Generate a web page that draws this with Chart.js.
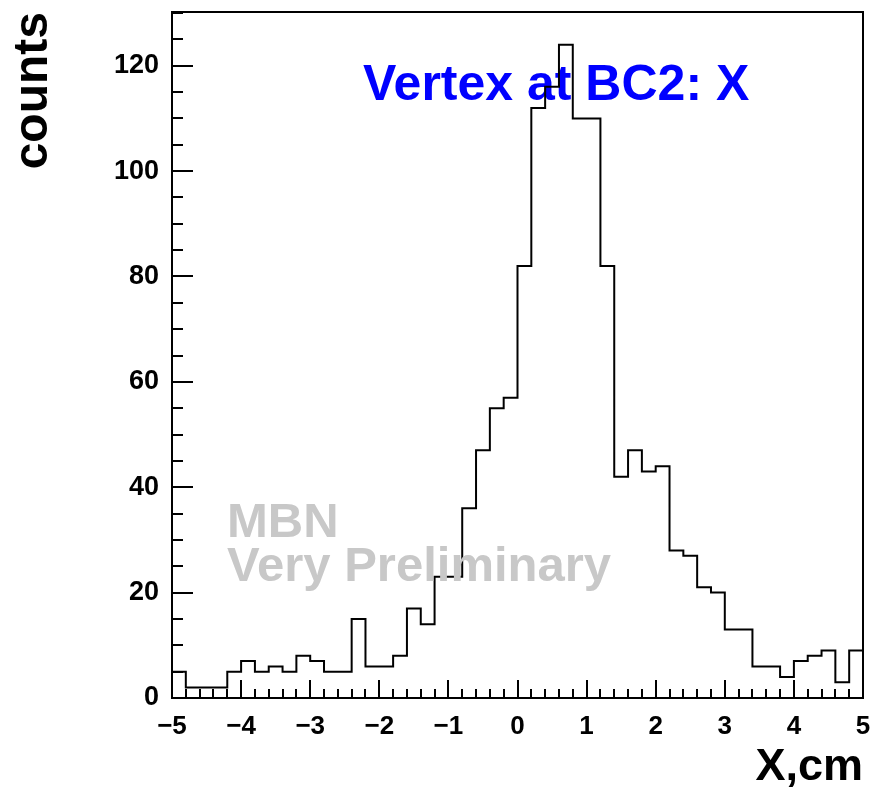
<!DOCTYPE html>
<html>
<head>
<meta charset="utf-8">
<script src="https://cdn.jsdelivr.net/npm/chart.js@4.4.0/dist/chart.umd.min.js"></script>
<style>
  html, body { margin: 0; padding: 0; background: #fff; }
  canvas { display: block; }
</style>
</head>
<body>
<canvas id="histo" width="877" height="795"></canvas>
<script>
// bin edges in cm (50 bins of 0.2 cm)
var binEdges = [-5.0, -4.8, -4.6, -4.4, -4.2, -4.0, -3.8, -3.6, -3.4, -3.2,
                -3.0, -2.8, -2.6, -2.4, -2.2, -2.0, -1.8, -1.6, -1.4, -1.2,
                -1.0, -0.8, -0.6, -0.4, -0.2, 0.0, 0.2, 0.4, 0.6, 0.8,
                1.0, 1.2, 1.4, 1.6, 1.8, 2.0, 2.2, 2.4, 2.6, 2.8,
                3.0, 3.2, 3.4, 3.6, 3.8, 4.0, 4.2, 4.4, 4.6, 4.8, 5.0];
// counts per bin
var binCounts = [5, 2, 2, 2, 5, 7, 5, 6, 5, 8,
                 7, 5, 5, 15, 6, 6, 8, 17, 14, 23,
                 23, 36, 47, 55, 57, 82, 112, 116, 124, 110,
                 110, 82, 42, 47, 43, 44, 28, 27, 21, 20,
                 13, 13, 6, 6, 4, 7, 8, 9, 3, 9];

var xTickValues = [-5, -4, -3, -2, -1, 0, 1, 2, 3, 4, 5];
var xTickLabels = ['\u22125', '\u22124', '\u22123', '\u22122', '\u22121', '0', '1', '2', '3', '4', '5'];
var yTickValues = [0, 20, 40, 60, 80, 100, 120];
var yTickLabels = ['0', '20', '40', '60', '80', '100', '120'];
var yMax = 130.2;

var titleText = 'Vertex at BC2: X';
var stampText = ['MBN', 'Very Preliminary'];

// step points: each bin edge carries the count of the bin on its right
var histPoints = [];
for (var i = 0; i < binEdges.length; i++) {
    var c = binCounts[Math.min(i, binCounts.length - 1)];
    histPoints.push({x: binEdges[i], y: c});
}

var FONT = '"Liberation Sans", Arial, Helvetica, sans-serif';

// blue title under the histogram line
var titleUnder = {
    id: 'titleUnder',
    beforeDatasetsDraw: function(chart) {
        var ctx = chart.ctx;
        ctx.save();
        ctx.font = 'bold 50px ' + FONT;
        ctx.fillStyle = '#0000ff';
        ctx.textAlign = 'left';
        ctx.textBaseline = 'alphabetic';
        ctx.fillText(titleText, 363, 100);
        ctx.restore();
    }
};

// grey stamp over the line
var stampOver = {
    id: 'stampOver',
    afterDatasetsDraw: function(chart) {
        var ctx = chart.ctx;
        ctx.save();
        ctx.font = 'bold 49px ' + FONT;
        ctx.fillStyle = '#c8c8c8';
        ctx.textAlign = 'left';
        ctx.textBaseline = 'alphabetic';
        ctx.fillText(stampText[0], 227, 537);
        ctx.fillText(stampText[1], 227, 581);
        ctx.restore();
    }
};

// frame + inward ticks, ROOT style
var rootFrame = {
    id: 'rootFrame',
    afterDraw: function(chart) {
        var ctx = chart.ctx;
        var a = chart.chartArea;
        var xs = chart.scales.x, ys = chart.scales.y;
        ctx.save();
        ctx.strokeStyle = '#000';
        ctx.lineWidth = 2;
        ctx.strokeRect(a.left, a.top, a.right - a.left, a.bottom - a.top);

        ctx.beginPath();
        // x ticks every 0.2, major every 1
        for (var i = 0; i < binEdges.length; i++) {
            var v = binEdges[i];
            var px = Math.round(xs.getPixelForValue(v));
            var major = Math.abs(v - Math.round(v)) < 1e-6;
            var len = major ? 18 : 9;
            ctx.moveTo(px, a.bottom);
            ctx.lineTo(px, a.bottom - len);
        }
        // y ticks every 5, major every 20
        for (var y = 0; y <= yMax; y += 5) {
            var py = Math.round(ys.getPixelForValue(y));
            var ylen = (y % 20 === 0) ? 21 : 11;
            ctx.moveTo(a.left, py);
            ctx.lineTo(a.left + ylen, py);
        }
        ctx.stroke();
        ctx.restore();
    }
};

var chart = new Chart(document.getElementById('histo'), {
    type: 'line',
    data: {
        datasets: [{
            data: histPoints,
            stepped: 'before',
            borderColor: '#000',
            borderWidth: 2,
            fill: false,
            pointRadius: 0,
            tension: 0
        }]
    },
    options: {
        responsive: false,
        animation: false,
        devicePixelRatio: 1,
        layout: {padding: {top: 12, right: 14, left: 0, bottom: 0}},
        plugins: {
            legend: {display: false},
            tooltip: {enabled: false}
        },
        scales: {
            x: {
                type: 'linear',
                min: -5,
                max: 5,
                grid: {display: false},
                border: {display: false},
                afterBuildTicks: function(scale) {
                    scale.ticks = xTickValues.map(function(v) { return {value: v}; });
                },
                afterFit: function(scale) {
                    scale.height = 97;
                    scale.paddingLeft = 0;
                    scale.paddingRight = 0;
                },
                ticks: {
                    padding: 5,
                    color: '#000',
                    maxRotation: 0,
                    autoSkip: false,
                    font: {family: FONT, size: 26, weight: 'bold'},
                    callback: function(value, index) { return xTickLabels[index]; }
                },
                title: {
                    display: true,
                    text: 'X,cm',
                    align: 'end',
                    color: '#000',
                    padding: {top: 0, bottom: 0},
                    font: {family: FONT, size: 45, weight: 'bold'}
                }
            },
            y: {
                type: 'linear',
                min: 0,
                max: yMax,
                grid: {display: false},
                border: {display: false},
                afterBuildTicks: function(scale) {
                    scale.ticks = yTickValues.map(function(v) { return {value: v}; });
                },
                afterFit: function(scale) {
                    scale.width = 172;
                    scale.paddingTop = 0;
                    scale.paddingBottom = 0;
                },
                ticks: {
                    padding: 5,
                    color: '#000',
                    autoSkip: false,
                    font: {family: FONT, size: 27, weight: 'bold'},
                    callback: function(value, index) { return yTickLabels[index]; }
                },
                title: {
                    display: true,
                    text: 'counts',
                    align: 'end',
                    color: '#000',
                    padding: {top: 5, bottom: 0},
                    font: {family: FONT, size: 48, weight: 'bold'}
                }
            }
        }
    },
    plugins: [titleUnder, stampOver, rootFrame]
});
</script>
</body>
</html>
